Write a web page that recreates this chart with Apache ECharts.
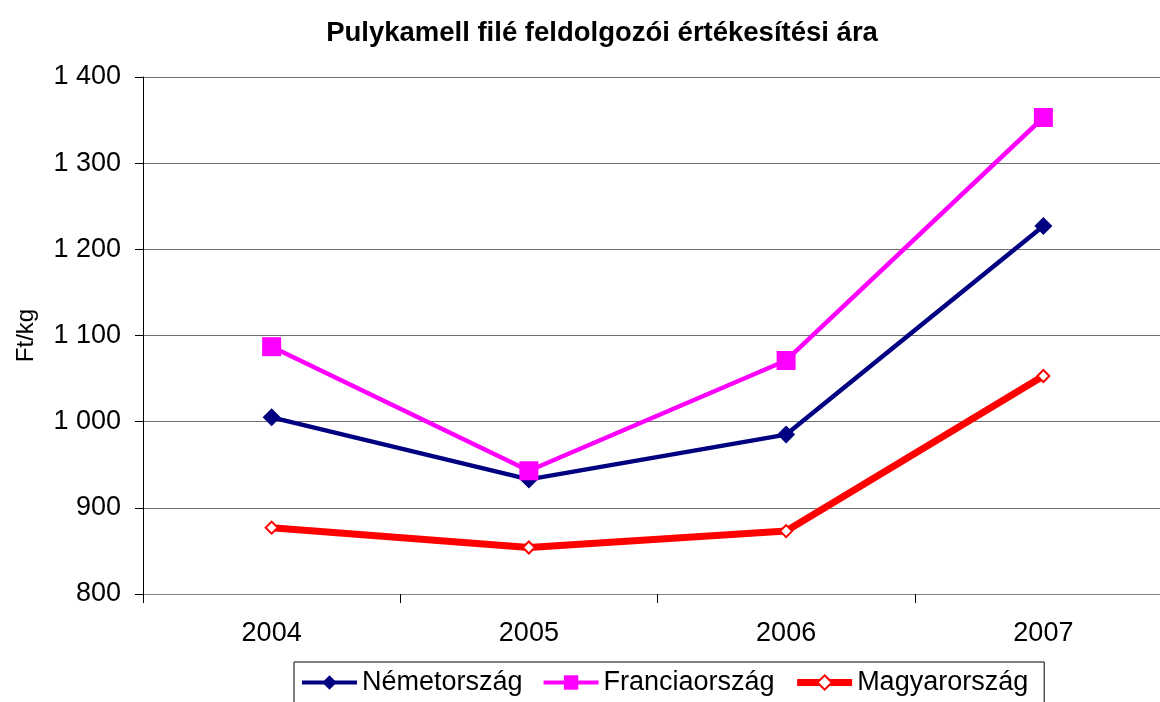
<!DOCTYPE html>
<html>
<head>
<meta charset="utf-8">
<script src="https://cdn.jsdelivr.net/npm/echarts@6/dist/echarts.min.js"></script>
<style>
  html, body { margin: 0; padding: 0; background: #fff; }
  #main { width: 1160px; height: 702px; }
</style>
</head>
<body>
<div id="main"></div>
<script>
var years = ["2004", "2005", "2006", "2007"];
var nemetorszag = [1005, 933, 985, 1227];
var franciaorszag = [1087, 943, 1071, 1353];
var magyarorszag = [877, 854, 873, 1053];

var font = "Liberation Sans, Arial, sans-serif";

var chart = echarts.init(document.getElementById("main"));
chart.setOption({
  animation: false,
  backgroundColor: "#fff",
  title: {
    text: "Pulykamell filé feldolgozói értékesítési ára",
    left: 597,
    textAlign: "center",
    top: 14,
    textStyle: { fontFamily: font, fontSize: 27.5, fontWeight: "bold", color: "#000" },
  },
  legend: {
    left: 294,
    top: 662,
    padding: [7, 16, 14, 6],
    itemGap: 19,
    itemWidth: 55,
    itemHeight: 18,
    borderColor: "#000",
    borderWidth: 1,
    textStyle: { fontFamily: font, fontSize: 27, color: "#000" },
    data: [
      { name: "Németország", lineStyle: { width: 4 } },
      { name: "Franciaország", lineStyle: { width: 4 } },
      { name: "Magyarország", lineStyle: { width: 7 } },
    ],
  },
  // plot runs past the right edge of the picture, as in the original
  grid: { left: 143, right: -12, top: 77, bottom: 108, containLabel: false, outerBoundsMode: "none" },
  xAxis: {
    type: "category",
    data: years,
    boundaryGap: true,
    axisLine: { lineStyle: { color: "#808080", width: 1 } },
    axisTick: { show: true, length: 9, lineStyle: { color: "#000" } },
    axisLabel: { fontFamily: font, fontSize: 27, color: "#000", margin: 26 },
  },
  yAxis: {
    type: "value",
    min: 800,
    max: 1400,
    interval: 100,
    name: "Ft/kg",
    nameLocation: "middle",
    nameGap: 105,
    nameTextStyle: { fontFamily: font, fontSize: 24, color: "#000" },
    axisLine: { show: true, lineStyle: { color: "#000", width: 1 } },
    axisTick: { show: true, length: 8, lineStyle: { color: "#000" } },
    axisLabel: {
      fontFamily: font,
      fontSize: 27,
      color: "#000",
      margin: 22,
      formatter: function (v) {
        return String(v).replace(/\B(?=(\d{3})+(?!\d))/g, " ");
      },
    },
    splitLine: { show: true, lineStyle: { color: "#707070", width: 1 } },
  },
  series: [
    {
      name: "Németország",
      type: "line",
      data: nemetorszag,
      symbol: "diamond",
      symbolSize: 18,
      color: "#000080",
      lineStyle: { color: "#000080", width: 4.5 },
      itemStyle: { color: "#000080" },
      z: 3,
    },
    {
      name: "Franciaország",
      type: "line",
      data: franciaorszag,
      symbol: "rect",
      symbolSize: 19,
      color: "#FF00FF",
      lineStyle: { color: "#FF00FF", width: 4.5 },
      itemStyle: { color: "#FF00FF" },
      z: 4,
    },
    {
      name: "Magyarország",
      type: "line",
      data: magyarorszag,
      symbol: "diamond",
      symbolSize: 12,
      color: "#FF0000",
      lineStyle: { color: "#FF0000", width: 7 },
      itemStyle: { color: "#fff", borderColor: "#FF0000", borderWidth: 2 },
      z: 2,
    },
  ],
});
</script>
</body>
</html>
